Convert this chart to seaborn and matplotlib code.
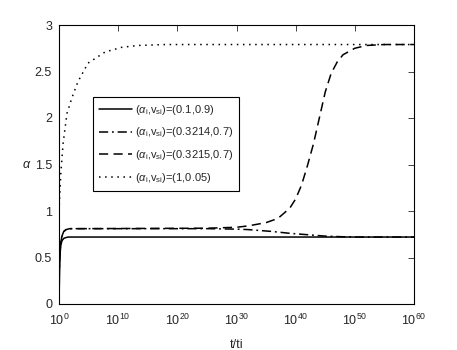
import matplotlib
matplotlib.use("Agg")
import matplotlib.pyplot as plt
import numpy as np
import pandas as pd
import seaborn as sns

# x positions are given as log10(t/ti)
solid_logt = [0, 0.1, 0.2, 0.3, 0.5, 0.8, 1.2, 1.6, 3, 60]
solid_y = [0.0, 0.35, 0.55, 0.63, 0.68, 0.705, 0.715, 0.72, 0.72, 0.72]

dashdot_logt = [0, 0.15, 0.3, 0.5, 0.8, 1.2, 1.8, 3, 25, 30, 32, 36, 39, 42, 45, 48, 51, 60]
dashdot_y = [0.32, 0.55, 0.66, 0.73, 0.78, 0.80, 0.81, 0.81, 0.81, 0.805, 0.80, 0.78, 0.76,
             0.745, 0.73, 0.723, 0.72, 0.72]

dashed_logt = [0, 0.15, 0.3, 0.5, 0.8, 1.2, 1.8, 3, 25, 30, 32, 35, 37, 39, 40, 41, 42, 43,
               44, 45, 46, 47, 48, 50, 52, 55, 60]
dashed_y = [0.32, 0.55, 0.66, 0.73, 0.78, 0.80, 0.81, 0.81, 0.815, 0.825, 0.84, 0.875, 0.92,
            1.03, 1.13, 1.28, 1.49, 1.72, 2.0, 2.28, 2.48, 2.6, 2.68, 2.75, 2.78, 2.79, 2.79]

dotted_logt = [0, 0.3, 0.7, 1.35, 2.2, 3.2, 4.9, 7.8, 10.6, 13.4, 18, 60]
dotted_y = [1.0, 1.4, 1.73, 2.05, 2.22, 2.39, 2.59, 2.71, 2.76, 2.78, 2.79, 2.79]

labels = [r"($\alpha_{\rm i}$,v$_{\rm si}$)=(0.1,0.9)",
          r"($\alpha_{\rm i}$,v$_{\rm si}$)=(0.3214,0.7)",
          r"($\alpha_{\rm i}$,v$_{\rm si}$)=(0.3215,0.7)",
          r"($\alpha_{\rm i}$,v$_{\rm si}$)=(1,0.05)"]
xtick_exps = [0, 10, 20, 30, 40, 50, 60]
yticks = [0, 0.5, 1, 1.5, 2, 2.5, 3]

sns.set_style("white")
plt.rcParams["font.family"] = ["Liberation Sans", "DejaVu Sans"]
plt.rcParams["mathtext.fontset"] = "custom"
plt.rcParams["mathtext.rm"] = "Liberation Sans"
plt.rcParams["mathtext.it"] = "Liberation Sans:italic"
plt.rcParams["font.size"] = 8

fig = plt.figure(figsize=(4.57, 3.5), dpi=100)
ax = fig.add_axes([59 / 457, 46 / 350, 355 / 457, 279 / 350])

styles = ["-", (0, (6, 2.5, 1.2, 2.5)), (0, (6, 3.5)), (0, (1, 3))]
series = [(solid_logt, solid_y), (dashdot_logt, dashdot_y),
          (dashed_logt, dashed_y), (dotted_logt, dotted_y)]
for (lx, ly), ls, lab in zip(series, styles, labels):
    df = pd.DataFrame({"t": 10.0 ** np.array(lx), "a": ly})
    sns.lineplot(data=df, x="t", y="a", ax=ax, color="black", linestyle=ls,
                 linewidth=1.1, label=lab, sort=False)

ax.set_xscale("log")
ax.set_xlim(1, 1e60)
ax.set_ylim(0, 3)
ax.set_xticks([10.0 ** e for e in xtick_exps])
ax.set_xticklabels([rf"$10^{{{e}}}$" for e in xtick_exps], fontsize=9)
ax.xaxis.set_minor_locator(matplotlib.ticker.NullLocator())
ax.set_yticks(yticks)
ax.set_yticklabels(["0", "0.5", "1", "1.5", "2", "2.5", "3"], fontsize=9)
ax.tick_params(direction="in", top=True, right=True, length=4, width=0.6)
ax.tick_params(axis="x", pad=6)
ax.tick_params(axis="y", pad=5)
for sp in ax.spines.values():
    sp.set_color("black")
    sp.set_linewidth(0.8)
ax.set_xlabel("t/ti", fontsize=9, labelpad=8)
ax.set_ylabel(r"$\alpha$", fontsize=9, rotation=0, labelpad=6, va="center")

leg = ax.legend(loc="upper left", bbox_to_anchor=(0.096, 0.742), fontsize=8,
                frameon=True, fancybox=False, edgecolor="black", framealpha=1,
                handlelength=3.0, handletextpad=0.3, borderpad=0.5, labelspacing=0.8,
                borderaxespad=0)
leg.get_frame().set_linewidth(0.8)

fig.savefig("out.png", dpi=100)
